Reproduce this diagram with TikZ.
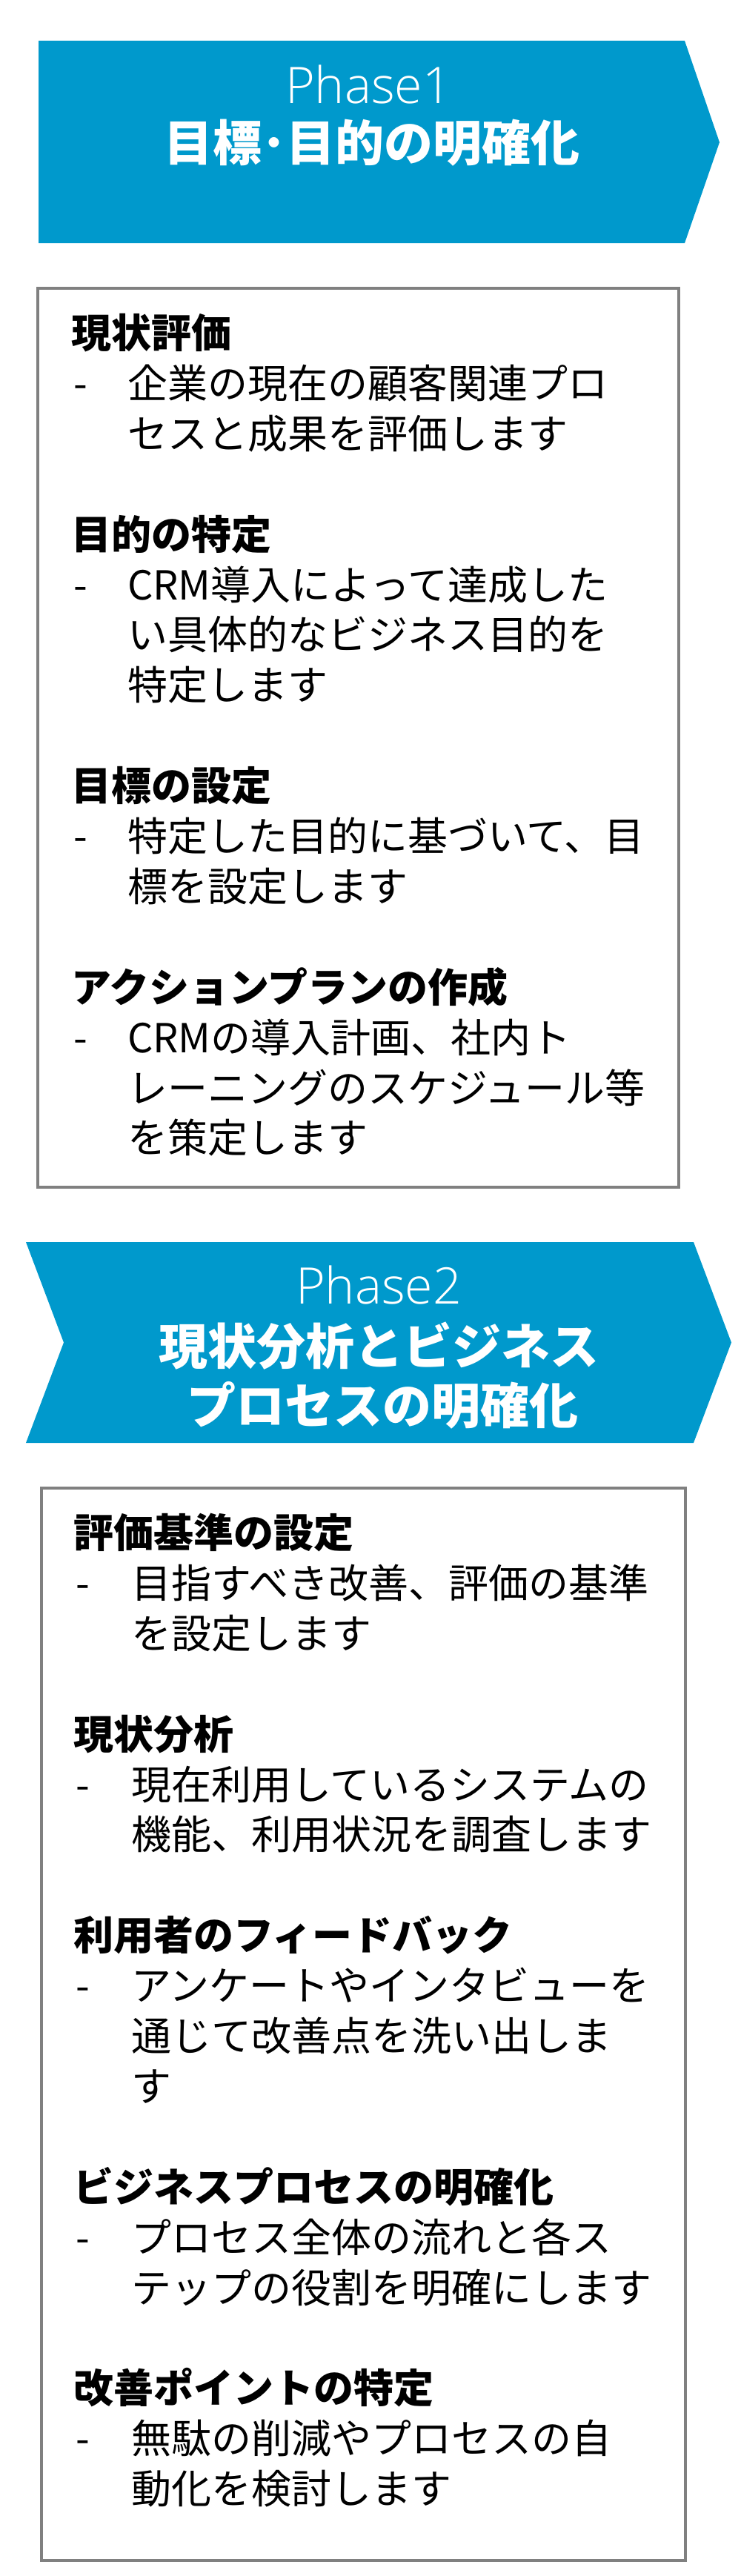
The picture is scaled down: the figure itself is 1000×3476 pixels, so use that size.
\documentclass[tikz,border=0pt]{standalone}
\usepackage{fontspec}
\setmainfont{Noto Sans CJK JP}
\IfFontExistsTF{Open Sans Light}{\newfontfamily\phasefont{Open Sans Light}}{\newfontfamily\phasefont{Noto Sans CJK JP}}
\definecolor{bannerblue}{RGB}{0,153,204}
\definecolor{boxgray}{RGB}{128,128,128}
\tikzset{
  txt/.style={inner sep=0pt, outer sep=0pt, anchor=base west, text=black, font=\fontsize{54}{68}\selectfont},
  ttl/.style={txt, font=\fontsize{54}{68}\selectfont\bfseries},
  phase/.style={inner sep=0pt, outer sep=0pt, anchor=base, text=white, font=\fontsize{68}{80}\selectfont\phasefont},
  bhead/.style={inner sep=0pt, outer sep=0pt, anchor=base, text=white, font=\fontsize{66}{80}\selectfont\bfseries},
  panel/.style={draw=boxgray, line width=3.5pt, fill=white},
  banner/.style={fill=bannerblue}
}
\begin{document}
\begin{tikzpicture}[x=1pt,y=-1pt]
\useasboundingbox (0,0) rectangle (1000,3476);

% Banner 1
\fill[banner] (52,55) -- (924,55) -- (971,192) -- (924,328) -- (52,328) -- cycle;
\node[phase] (p1) at (497,140) {Phase1};
\node[bhead] (h1) at (502,218) {目標･目的の明確化};

% Box 1
\draw[panel] (51,389) rectangle (916,1602);
\node[ttl] (a1) at (96,469.5) {現状評価};
\node[txt] (a1d) at (99,537.4) {-};
\node[txt] (a1l1) at (172,537.4) {企業の現在の顧客関連プロ};
\node[txt] (a1l2) at (172,605.3) {セスと成果を評価します};

\node[ttl] (a2) at (96,741.1) {目的の特定};
\node[txt] (a2d) at (99,809.0) {-};
\node[txt] (a2l1) at (172,809.0) {CRM導入によって達成した};
\node[txt] (a2l2) at (172,876.9) {い具体的なビジネス目的を};
\node[txt] (a2l3) at (172,944.8) {特定します};

\node[ttl] (a3) at (96,1080.6) {目標の設定};
\node[txt] (a3d) at (99,1148.5) {-};
\node[txt] (a3l1) at (172,1148.5) {特定した目的に基づいて、目};
\node[txt] (a3l2) at (172,1216.4) {標を設定します};

\node[ttl] (a4) at (96,1352.2) {アクションプランの作成};
\node[txt] (a4d) at (99,1420.1) {-};
\node[txt] (a4l1) at (172,1420.1) {CRMの導入計画、社内ト};
\node[txt] (a4l2) at (172,1488.0) {レーニングのスケジュール等};
\node[txt] (a4l3) at (172,1555.9) {を策定します};

% Banner 2
\fill[banner] (35,1676) -- (936,1676) -- (987,1811.5) -- (936,1947) -- (35,1947) -- (86,1811.5) -- cycle;
\node[phase] (p2) at (511,1759) {Phase2};
\node[bhead] (h2a) at (511,1841) {現状分析とビジネス};
\node[bhead] (h2b) at (516,1921) {プロセスの明確化};

% Box 2
\draw[panel] (56,2008) rectangle (925,3455);
\node[ttl] (b1) at (99,2088.5) {評価基準の設定};
\node[txt] (b1d) at (102,2156.4) {-};
\node[txt] (b1l1) at (177,2156.4) {目指すべき改善、評価の基準};
\node[txt] (b1l2) at (177,2224.3) {を設定します};

\node[ttl] (b2) at (99,2360.1) {現状分析};
\node[txt] (b2d) at (102,2428.0) {-};
\node[txt] (b2l1) at (177,2428.0) {現在利用しているシステムの};
\node[txt] (b2l2) at (177,2495.9) {機能、利用状況を調査します};

\node[ttl] (b3) at (99,2631.7) {利用者のフィードバック};
\node[txt] (b3d) at (102,2699.6) {-};
\node[txt] (b3l1) at (177,2699.6) {アンケートやインタビューを};
\node[txt] (b3l2) at (177,2767.5) {通じて改善点を洗い出しま};
\node[txt] (b3l3) at (177,2835.4) {す};

\node[ttl] (b4) at (99,2971.2) {ビジネスプロセスの明確化};
\node[txt] (b4d) at (102,3039.1) {-};
\node[txt] (b4l1) at (177,3039.1) {プロセス全体の流れと各ス};
\node[txt] (b4l2) at (177,3107.0) {テップの役割を明確にします};

\node[ttl] (b5) at (99,3242.8) {改善ポイントの特定};
\node[txt] (b5d) at (102,3310.7) {-};
\node[txt] (b5l1) at (177,3310.7) {無駄の削減やプロセスの自};
\node[txt] (b5l2) at (177,3378.6) {動化を検討します};
\end{tikzpicture}
\end{document}
